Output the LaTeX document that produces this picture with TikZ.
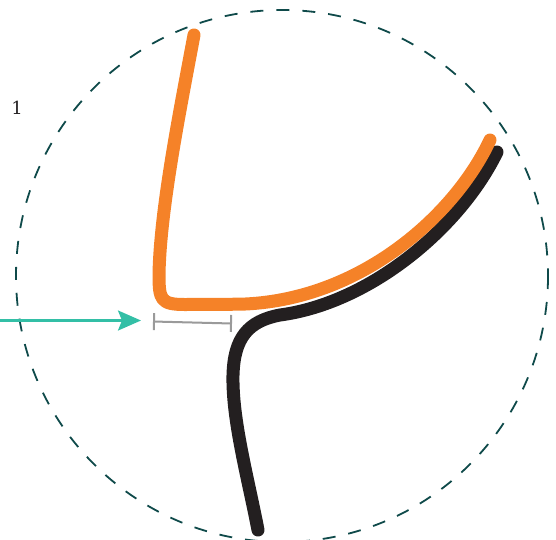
\documentclass[tikz,border=0pt]{standalone}
\usepackage{fontspec}
\newfontfamily\labelfont{DejaVu Serif}
\usetikzlibrary{arrows.meta}
\definecolor{ringcol}{HTML}{0F4A4A}
\definecolor{orangecol}{HTML}{F58228}
\definecolor{blackcol}{HTML}{231F20}
\definecolor{tealcol}{HTML}{33BFA6}
\definecolor{graycol}{HTML}{9A9A9A}
\tikzset{
  ring/.style={draw=ringcol, line width=1.8pt, dash pattern=on 13pt off 13pt},
  thickcurve/.style={line width=13pt, line cap=round, line join=round},
  pointer/.style={draw=tealcol, line width=2.3pt, -{Stealth[length=23pt,width=20pt,inset=4pt]}},
  gap/.style={draw=graycol, line width=2pt, {Bar[width=17pt]}-{Bar[width=17pt]}},
  lbl/.style={text=blackcol, inner sep=0pt}
}
\begin{document}
\begin{tikzpicture}[x=1pt,y=-1pt]
\useasboundingbox (0,0) rectangle (556,539);
\begin{scope}
\clip (0,0) rectangle (556,539);
\draw[ring] (282,276) circle[radius=266];
\end{scope}
% black curve
\draw[thickcurve, draw=blackcol]
  (258,530) .. controls (248,478) and (232,420) .. (233,375)
  .. controls (234,338) and (248,321) .. (280,315)
  .. controls (370,303) and (460,228) .. (497,152);
% orange curve
\draw[thickcurve, draw=orangecol]
  (194,35) .. controls (180,110) and (160,210) .. (159,275)
  .. controls (159,300) and (161,304.5) .. (185,304.5)
  -- (240,304.2)
  .. controls (360,301) and (455,215) .. (490,140);
% pointer and gap bracket
\coordinate (arrowstart) at (0,320.5);
\coordinate (arrowtip) at (141,320.5);
\draw[pointer] (arrowstart) -- (arrowtip);
\coordinate (gapleft) at (153,321.5);
\coordinate (gapright) at (232,323.5);
\draw[gap] (gapleft) -- (gapright);
\node[lbl] (one) at (17,108) {\labelfont\fontsize{18}{22}\selectfont 1};
\end{tikzpicture}
\end{document}
